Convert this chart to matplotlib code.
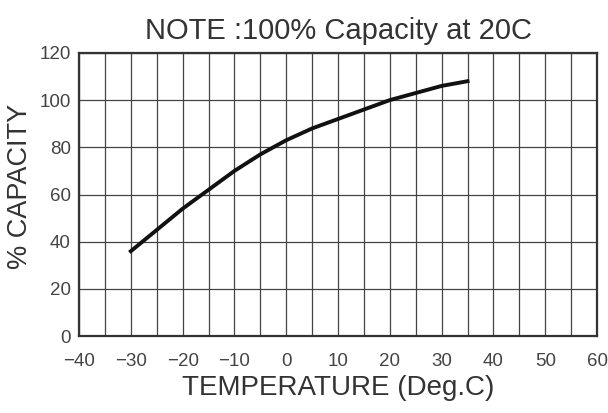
import matplotlib.pyplot as plt
import numpy as np

# curve
temperature = [-30, -25, -20, -15, -10, -5, 0, 5, 10, 15, 20, 25, 30, 35]
capacity = [36, 45, 54, 62, 70, 77, 83, 88, 92, 96, 100, 103, 106, 108]

x_ticks = [-40, -30, -20, -10, 0, 10, 20, 30, 40, 50, 60]
y_ticks = [0, 20, 40, 60, 80, 100, 120]

plt.rcParams['font.family'] = ['Liberation Sans', 'DejaVu Sans']

fig = plt.figure(figsize=(6.08, 4.13), dpi=100)
ax = fig.add_axes([0.130, 0.186, 0.852, 0.686])

# 网格: 每5度一条竖线, 每20%一条横线
for xv in np.arange(-40, 61, 5):
    ax.axvline(xv, color='#444444', lw=0.9, zorder=1)
for yv in y_ticks:
    ax.axhline(yv, color='#444444', lw=0.9, zorder=1)

ax.plot(temperature, capacity, color='#111111', lw=2.8, zorder=3)

ax.set_xlim(-40, 60)
ax.set_ylim(0, 120)
ax.set_xticks(x_ticks)
ax.set_yticks(y_ticks)
ax.tick_params(length=0, labelsize=13.5, labelcolor='#444444')
ax.tick_params(axis='x', pad=12)
ax.tick_params(axis='y', pad=6)

for s in ax.spines.values():
    s.set_color('#333333')
    s.set_linewidth(1.6)

ax.set_title('NOTE :100% Capacity at 20C', fontsize=21, color='#333333', pad=10)
ax.set_xlabel('TEMPERATURE (Deg.C)', fontsize=20, color='#333333', labelpad=4)
ax.set_ylabel('% CAPACITY', fontsize=19.5, color='#333333', labelpad=0)
ax.yaxis.set_label_coords(-0.088, 0.53)

fig.savefig('out.png', dpi=100)
